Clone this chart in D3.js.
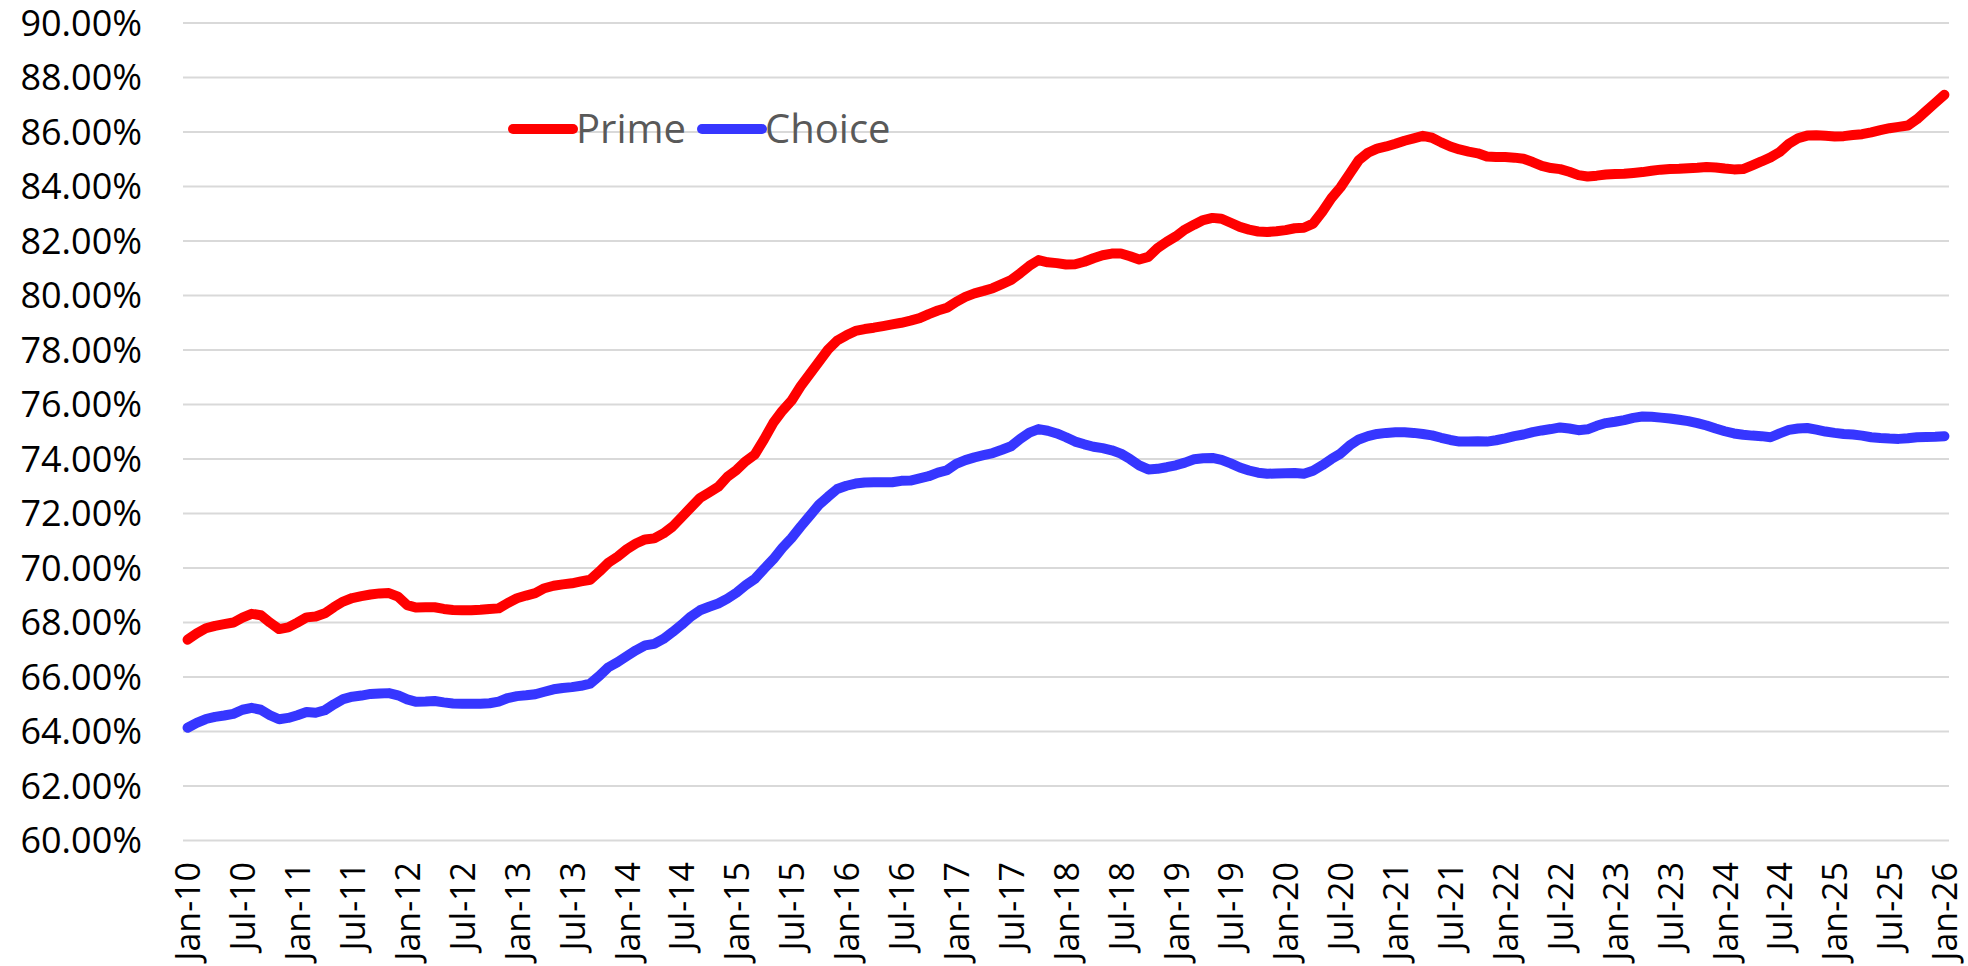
<!DOCTYPE html>
<html>
<head>
<meta charset="utf-8">
<script src="https://cdn.jsdelivr.net/npm/d3@7"></script>
<style>
  body { margin: 0; background: #fff; }
  svg { display: block; font-family: "Open Sans", sans-serif; }
</style>
</head>
<body>
<svg width="1968" height="966"></svg>
<script>
// monthly, Jan-10 .. Jan-26
const tickLabels = ["Jan-10","Jul-10","Jan-11","Jul-11","Jan-12","Jul-12","Jan-13","Jul-13",
  "Jan-14","Jul-14","Jan-15","Jul-15","Jan-16","Jul-16","Jan-17","Jul-17","Jan-18","Jul-18",
  "Jan-19","Jul-19","Jan-20","Jul-20","Jan-21","Jul-21","Jan-22","Jul-22","Jan-23","Jul-23",
  "Jan-24","Jul-24","Jan-25","Jul-25","Jan-26"];

const yTicks = [60, 62, 64, 66, 68, 70, 72, 74, 76, 78, 80, 82, 84, 86, 88, 90];

const seriesNames = ["Prime", "Choice"];

const prime = [
  67.35, 67.58, 67.77, 67.86, 67.92, 67.98, 68.16, 68.30, 68.25, 67.98, 67.74, 67.80,
  67.98, 68.17, 68.20, 68.32, 68.55, 68.75, 68.88, 68.95, 69.01, 69.05, 69.06, 68.93,
  68.62, 68.53, 68.54, 68.54, 68.48, 68.44, 68.43, 68.43, 68.45, 68.48, 68.50, 68.70,
  68.87, 68.97, 69.06, 69.24, 69.33, 69.38, 69.42, 69.49, 69.55, 69.85, 70.18, 70.40,
  70.67, 70.88, 71.03, 71.07, 71.25, 71.50, 71.85, 72.20, 72.55, 72.75, 72.96, 73.33,
  73.58, 73.90, 74.15, 74.70, 75.30, 75.75, 76.12, 76.65, 77.10, 77.55, 78.00, 78.33,
  78.52, 78.68, 78.75, 78.80, 78.86, 78.92, 78.98, 79.06, 79.15, 79.30, 79.43, 79.53,
  79.75, 79.93, 80.06, 80.15, 80.25, 80.40, 80.55, 80.80, 81.07, 81.28, 81.20, 81.17,
  81.12, 81.13, 81.22, 81.35, 81.46, 81.52, 81.52, 81.42, 81.30, 81.40, 81.72, 81.95,
  82.15, 82.40, 82.58, 82.75, 82.83, 82.80, 82.65, 82.50, 82.40, 82.33, 82.31, 82.34,
  82.38, 82.45, 82.47, 82.62, 83.05, 83.55, 83.95, 84.45, 84.95, 85.22, 85.37, 85.45,
  85.55, 85.66, 85.75, 85.84, 85.77, 85.60, 85.45, 85.34, 85.26, 85.20, 85.08, 85.06,
  85.06, 85.04, 85.00, 84.88, 84.74, 84.66, 84.62, 84.52, 84.40, 84.35, 84.38, 84.42,
  84.44, 84.45, 84.48, 84.51, 84.56, 84.60, 84.62, 84.63, 84.65, 84.67, 84.70, 84.68,
  84.64, 84.61, 84.62, 84.76, 84.90, 85.05, 85.25, 85.55, 85.75, 85.85, 85.86, 85.84,
  85.82, 85.83, 85.87, 85.90, 85.97, 86.05, 86.12, 86.17, 86.22, 86.45, 86.75, 87.05,
  87.35
];

const choice = [
  64.12, 64.30, 64.44, 64.52, 64.57, 64.63, 64.78, 64.85, 64.78, 64.58, 64.43, 64.48,
  64.58, 64.70, 64.67, 64.76, 64.98, 65.17, 65.26, 65.30, 65.36, 65.38, 65.39, 65.31,
  65.16, 65.07, 65.08, 65.10, 65.05, 65.01, 65.00, 65.00, 65.00, 65.02, 65.08, 65.21,
  65.28, 65.31, 65.35, 65.44, 65.53, 65.58, 65.61, 65.66, 65.74, 66.02, 66.34, 66.53,
  66.75, 66.96, 67.14, 67.20, 67.38, 67.63, 67.90, 68.20, 68.43, 68.56, 68.68, 68.86,
  69.08, 69.35, 69.58, 69.95, 70.30, 70.72, 71.08, 71.50, 71.90, 72.30, 72.60, 72.88,
  73.00, 73.08, 73.12, 73.13, 73.13, 73.13, 73.18, 73.19, 73.27, 73.35, 73.48, 73.57,
  73.80, 73.94, 74.04, 74.12, 74.20, 74.32, 74.45, 74.72, 74.95, 75.08, 75.02, 74.92,
  74.78, 74.62, 74.52, 74.43, 74.38, 74.30, 74.18, 73.98, 73.75, 73.60, 73.62, 73.68,
  73.75, 73.85, 73.97, 74.01, 74.02, 73.95, 73.82, 73.67, 73.56, 73.48, 73.44, 73.45,
  73.46, 73.47, 73.44, 73.55, 73.75, 73.98, 74.18, 74.48, 74.70, 74.82, 74.90, 74.94,
  74.96, 74.96, 74.94, 74.90, 74.85, 74.76, 74.68, 74.62, 74.62, 74.63, 74.62, 74.67,
  74.74, 74.82, 74.88, 74.97, 75.03, 75.08, 75.14, 75.10, 75.04, 75.07, 75.20, 75.30,
  75.35, 75.41, 75.49, 75.54, 75.53, 75.50, 75.47, 75.42, 75.37, 75.30, 75.21, 75.10,
  75.00, 74.92, 74.87, 74.84, 74.82, 74.78, 74.92, 75.05, 75.10, 75.12, 75.06, 74.99,
  74.94, 74.90, 74.88, 74.84, 74.78, 74.75, 74.73, 74.72, 74.74, 74.78, 74.79, 74.80,
  74.82
];

const colors = ["#ff0000", "#3636ff"];

const svg = d3.select('svg');
const plot = { left: 183, right: 1949, top: 22.5, bottom: 840 };

const xScale = d3.scaleLinear()
  .domain([-0.5, prime.length - 0.5])
  .range([plot.left, plot.right]);

const yScale = d3.scaleLinear()
  .domain([60, 90])
  .range([plot.bottom, plot.top]);

// gridlines + y labels
const yAxis = d3.axisLeft(yScale)
  .tickValues(yTicks)
  .tickSize(-(plot.right - plot.left))
  .tickPadding(41)
  .tickFormat(d => d.toFixed(2) + '%');

const gy = svg.append('g')
  .attr('class', 'axis')
  .attr('transform', `translate(${plot.left}, 0)`)
  .call(yAxis)
  .attr('font-family', '"Open Sans", sans-serif');
gy.select('.domain').remove();
gy.selectAll('line').attr('stroke', '#d9d9d9').attr('stroke-width', 2);
gy.selectAll('text')
  .attr('fill', '#000')
  .style('font-size', '36px')
  .attr('dy', '0.36em');

// x labels (every 6 months)
const xAxis = d3.axisBottom(xScale)
  .tickValues(d3.range(0, prime.length, 6))
  .tickSize(0)
  .tickFormat(i => tickLabels[i / 6]);

const gx = svg.append('g')
  .attr('class', 'axis')
  .attr('transform', `translate(0, ${plot.bottom})`)
  .call(xAxis)
  .attr('font-family', '"Open Sans", sans-serif');
gx.select('.domain').remove();
gx.selectAll('text')
  .attr('fill', '#000')
  .style('font-size', '34px')
  .attr('transform', 'rotate(-90)')
  .attr('x', -22)
  .attr('y', 0)
  .attr('dy', '0.36em')
  .style('text-anchor', 'end');

// lines
const line = d3.line()
  .x((d, i) => xScale(i))
  .y(d => yScale(d));

[prime, choice].forEach((s, k) => {
  svg.append('path')
    .datum(s)
    .attr('fill', 'none')
    .attr('stroke', colors[k])
    .attr('stroke-width', 10)
    .attr('stroke-linejoin', 'round')
    .attr('stroke-linecap', 'round')
    .attr('d', line);
});

// legend
const legendX = [513, 702];
const legend = svg.selectAll('.legend')
  .data(seriesNames)
  .enter()
  .append('g')
  .attr('class', 'legend')
  .attr('transform', (d, i) => `translate(${legendX[i]}, 129)`);

legend.append('line')
  .attr('x1', 0)
  .attr('x2', 60)
  .attr('stroke', (d, i) => colors[i])
  .attr('stroke-width', 10)
  .attr('stroke-linecap', 'round');

legend.append('text')
  .attr('x', 63)
  .attr('y', 14)
  .attr('fill', '#595959')
  .style('font-size', '40px')
  .text(d => d);
</script>
</body>
</html>
